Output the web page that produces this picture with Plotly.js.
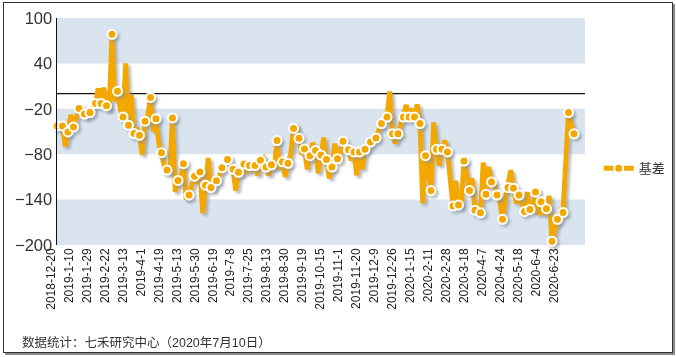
<!DOCTYPE html>
<html>
<head>
<meta charset="utf-8">
<script src="https://cdn.plot.ly/plotly-3.0.1.min.js"></script>
<style>
html,body{margin:0;padding:0;background:#fff;}
#wrap{position:relative;width:676px;height:357px;}
#chart{position:absolute;left:0;top:0;width:676px;height:357px;}
#frame{position:absolute;left:3px;top:2px;width:668px;height:349px;border:1px solid #333;box-shadow:2px 2px 0 #8a8a8a;pointer-events:none;}
</style>
</head>
<body>
<div id="wrap"><div id="chart"></div><div id="frame"></div></div>
<script>
// tick labels (one every ~13 trading days)
var tickLabels = ["2018-12-20","2019-1-10","2019-1-29","2019-2-22","2019-3-13","2019-4-1","2019-4-19","2019-5-13","2019-5-30","2019-6-19","2019-7-8","2019-7-25","2019-8-13","2019-8-30","2019-9-19","2019-10-15","2019-11-1","2019-11-20","2019-12-9","2019-12-26","2020-1-15","2020-2-11","2020-2-28","2020-3-18","2020-4-7","2020-4-24","2020-5-18","2020-6-4","2020-6-23"];
// basis series (基差)
var basis = [
-42.6,-45,-42.6,-70,-50.6,-28,-44,-30,-19.6,-22,
-27,-30,-25,-18,-13,7,-13,8,-16,-22,
78.4,-10,3.3,-20,-30.7,40,-41.7,-2,-52.7,-45,
-55,-81,-36.4,-30,-5,-50,-33,-65,-78,-95,
-101,-105,-32,-130,-114.6,-110,-92.5,-140,-134,-120,
-109,-118,-103.5,-158,-121,-85,-124,-125,-115,-110,
-98,-95,-87,-95,-100,-128,-104,-108,-93,-105,
-95,-100,-95,-108,-88,-85,-97,-108,-94,-100,
-62,-100,-90,-110,-92,-80,-46,-42,-59,-80,
-73,-100,-82,-65,-75,-105,-81,-58,-87,-112,
-97,-66,-86,-80,-63,-68,-74,-88,-77,-108,
-77,-100,-73.5,-72,-64,-62,-58.5,-48,-39.5,-35,
-31,3,-53,-66,-53,-40,-31,-15,-31,-20,
-31,-14,-39.5,-145,-82,-100,-128,-38,-73.5,-95,
-73.5,-62,-77,-120,-148.6,-115,-147,-150,-89,-105,
-128,-112,-154,-150,-157.5,-91,-133,-97,-116.6,-120,
-134,-140,-166,-140,-124,-101,-125,-145,-134,-145,
-155.6,-130,-153,-150,-130,-160,-143,-160,-152,-135,
-195,-180,-166,-155,-157,-100,-25,-40,-53
];
var seriesName = "基差";
var yTicks = [100, 40, -20, -80, -140, -200];
var tickStep = 6.53;   // observations between category labels

var idx = basis.map(function(_, i){ return i; });
var mx = [], my = [];
basis.forEach(function(v, i){ if (i % 2 === 0) { mx.push(i); my.push(v); } });
var tickvals = tickLabels.map(function(_, k){ return k * tickStep; });

var orange = "#F3A800";
var band = "#D9E4EF";
var font = "Liberation Sans, Arial, Noto Sans CJK SC, sans-serif";

var traces = [
  {x: idx, y: basis, type: "scatter", mode: "lines", line: {color: orange, width: 5}, showlegend: false, hoverinfo: "skip"},
  {x: mx, y: my, type: "scatter", mode: "markers", cliponaxis: false,
   marker: {color: orange, size: 9, line: {color: "#fff", width: 2}}, showlegend: false},
  {x: [null], y: [null], type: "scatter", mode: "lines+markers", name: seriesName,
   line: {color: orange, width: 5}, marker: {color: orange, size: 9, line: {color: "#fff", width: 2}}}
];

var shapes = [[40,100],[-80,-20],[-200,-140]].map(function(b){
  return {type: "rect", xref: "paper", yref: "y", x0: 0, x1: 1, y0: b[0], y1: b[1], fillcolor: band, line: {width: 0}, layer: "below"};
});
shapes.push({type: "line", xref: "paper", yref: "y", x0: 0, x1: 1, y0: 0, y1: 0, line: {color: "#111", width: 1.3}, layer: "below"});

var layout = {
  width: 676, height: 357,
  margin: {l: 57, r: 91, t: 18, b: 112, autoexpand: false},
  paper_bgcolor: "rgba(0,0,0,0)", plot_bgcolor: "rgba(0,0,0,0)",
  font: {family: font, color: "#222"},
  xaxis: {range: [0, 192], tickvals: tickvals, ticktext: tickLabels, tickangle: -90,
          showgrid: false, zeroline: false, showline: false, ticks: "",
          ticklabelshift: -6, automargin: false,
          tickfont: {size: 12, color: "#222"}},
  yaxis: {range: [-200, 100], tickvals: yTicks, showgrid: false, zeroline: false,
          showline: true, linecolor: "#111", linewidth: 1.5, ticks: "", automargin: false,
          tickfont: {size: 16.5, color: "#333"}, ticklabelstandoff: 0},
  shapes: shapes,
  showlegend: true,
  legend: {x: 1.026, y: 0.338, xanchor: "left", yanchor: "middle", font: {size: 13, color: "#333", family: "Noto Sans CJK SC, sans-serif"}, bgcolor: "rgba(0,0,0,0)"},
  annotations: [{xref: "paper", yref: "paper", x: -0.07, y: -0.43, xanchor: "left", yanchor: "middle",
    text: "数据统计：七禾研究中心（2020年7月10日）", showarrow: false,
    font: {size: 12.5, color: "#333", family: "Liberation Sans, Noto Sans CJK SC, sans-serif"}}]
};

Plotly.newPlot("chart", traces, layout, {staticPlot: true}).then(function(gd){
  var svgNS = "http://www.w3.org/2000/svg";
  var svg = gd.querySelector("svg.main-svg");
  var defs = svg.querySelector("defs") || svg.insertBefore(document.createElementNS(svgNS, "defs"), svg.firstChild);
  var f = document.createElementNS(svgNS, "filter");
  f.setAttribute("id", "lineShadow");
  f.setAttribute("x", "-10%"); f.setAttribute("y", "-10%");
  f.setAttribute("width", "130%"); f.setAttribute("height", "130%");
  var ds = document.createElementNS(svgNS, "feDropShadow");
  ds.setAttribute("dx", "2.5"); ds.setAttribute("dy", "2.5");
  ds.setAttribute("stdDeviation", "0.8");
  ds.setAttribute("flood-color", "#7f8a96"); ds.setAttribute("flood-opacity", "0.55");
  f.appendChild(ds); defs.appendChild(f);
  var tr = gd.querySelectorAll(".scatterlayer .trace");
  for (var i = 0; i < 2 && i < tr.length; i++) tr[i].setAttribute("filter", "url(#lineShadow)");
});
</script>
</body>
</html>
